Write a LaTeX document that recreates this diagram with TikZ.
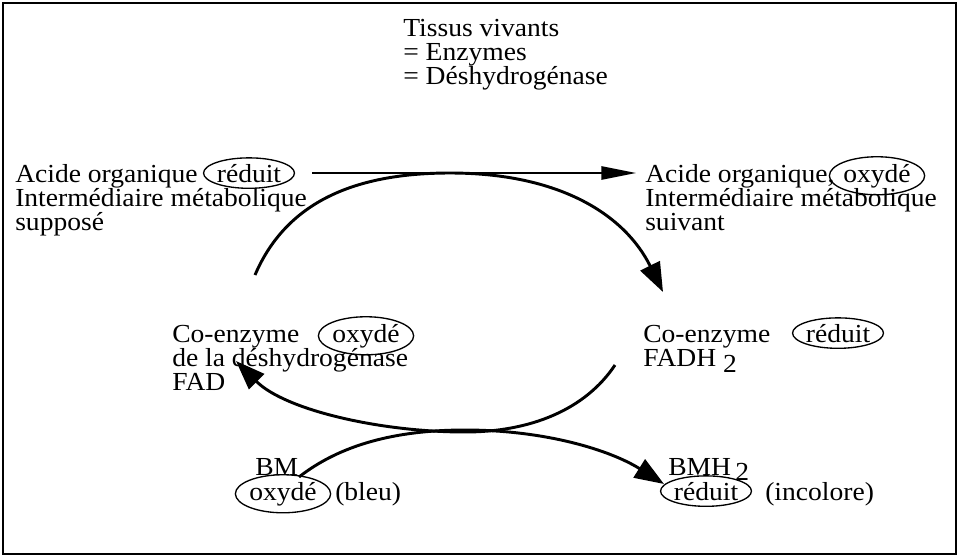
\documentclass[tikz,border=0pt]{standalone}
\usepackage{fontspec}
\setmainfont{Liberation Serif}[FakeStretch=1.06]
\usetikzlibrary{arrows.meta,shapes.geometric,positioning}
\tikzset{
  lbl/.style={anchor=base west,inner sep=0pt},
  oval/.style={draw,ellipse,anchor=base,inner xsep=0pt,inner ysep=1.2pt,line width=1pt},
  cyc/.style={line width=2.2pt,-{Triangle[length=22pt,width=16pt]}},
}
\begin{document}
\begin{tikzpicture}[x=0.75pt,y=-0.75pt,every node/.style={font=\fontsize{19.5}{20}\selectfont}]
\useasboundingbox (0,0) rectangle (959,557);
\draw[line width=1.1pt] (3,3) rectangle (956,554);
% enzymes
\node[lbl] (tissus) at (403,36) {Tissus vivants};
\node[lbl] (enz) at (403,60) {= Enzymes};
\node[lbl] (deshyd) at (403,84) {= Déshydrogénase};
% acide organique, left and right
\node[lbl] (acideL) at (15,182) {Acide organique};
\node[oval] (redL) at (249,182) {réduit};
\node[lbl] (interL) at (15,206) {Intermédiaire métabolique};
\node[lbl] (suppose) at (15,230) {supposé};
\node[lbl] (acideR) at (645,182) {Acide organique,};
\node[oval] (oxyR) at (877,182) {oxydé};
\node[lbl] (interR) at (645,206) {Intermédiaire métabolique};
\node[lbl] (suivant) at (645,230) {suivant};
% co-enzymes
\node[lbl] (coL) at (172,342) {Co-enzyme};
\node[oval] (oxyCo) at (366,342) {oxydé};
\node[lbl] (dela) at (172,366) {de la déshydrogénase};
\node[lbl] (fad) at (172,390) {FAD};
\node[lbl] (coR) at (643,342) {Co-enzyme};
\node[oval] (redCo) at (838,342) {réduit};
\node[lbl] (fadh) at (643,366) {FADH \raisebox{-4.5pt}{2}};
% bleu de methylene
\node[lbl] (bm) at (255,475) {BM};
\node[oval] (oxyBM) at (283,500) {oxydé};
\node[lbl] (bleu) at (335,500) {(bleu)};
\node[lbl] (bmh) at (668,475) {BMH\,\raisebox{-4pt}{2}};
\node[oval] (redBM) at (706,500) {réduit};
\node[lbl] (incol) at (765,500) {(incolore)};
% arrows
\coordinate (hS) at (312,173); \coordinate (hE) at (636,173);
\coordinate (upS) at (255,275); \coordinate (upT) at (450,173); \coordinate (upE) at (663,292);
\coordinate (loS) at (615,365); \coordinate (loX) at (465,432); \coordinate (loE) at (236,361);
\coordinate (bmS) at (299,477); \coordinate (bmX) at (465,430); \coordinate (bmE) at (664,484);
\draw[line width=1.2pt,-{Triangle[length=26pt,width=10pt]}] (hS) -- (hE);
\draw[cyc] (upS) .. controls (285,205) and (350,173) .. (upT) .. controls (560,173) and (625,215) .. (upE);
\draw[cyc] (loS) .. controls (585,410) and (530,432) .. (loX) .. controls (380,432) and (285,410) .. (loE);
\draw[cyc] (bmS) .. controls (340,445) and (395,430) .. (bmX) .. controls (545,430) and (610,450) .. (bmE);
\end{tikzpicture}
\end{document}
